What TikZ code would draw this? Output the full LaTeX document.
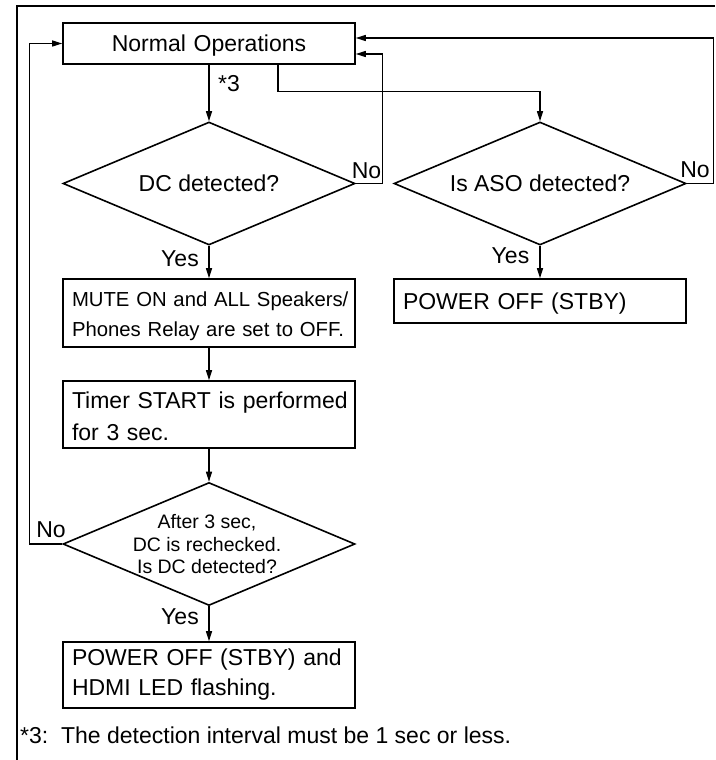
\documentclass[tikz,border=0pt]{standalone}
\usepackage{fontspec}
\setmainfont{Liberation Sans}
\usetikzlibrary{arrows.meta,shapes.geometric}
\newcommand\fsz[2]{\fontsize{#1}{#2}\selectfont}
\newcommand\htfix[1]{\rule{0pt}{#1}}
\begin{document}
\begin{tikzpicture}[x=1pt,y=-1pt,
  box/.style={draw, line width=1.6pt, minimum width=292pt, inner xsep=9pt, inner ysep=0pt,
    text width=274pt, align=left, font=\fsz{23}{32}},
  dia/.style={draw, diamond, line width=1.6pt, minimum width=292pt, minimum height=123pt,
    inner sep=0pt, aspect=2.37, font=\fsz{23}{27}, text height=16.5pt, text depth=0pt},
  arr/.style={line width=1.2pt, -{Triangle[length=10pt,width=6pt]}},
  lbl/.style={inner sep=0pt, anchor=base, font=\fsz{23}{27}},
  frame/.style={line width=1.4pt}]
\useasboundingbox (0,0) rectangle (715,760);
\draw[frame] (17,760) -- (17,6) -- (715,6);

% nodes
\node[box, align=center, minimum height=41pt, text height=16.5pt, text depth=0pt] (no) at (209,43.5) {Normal Operations};
\node[dia] (d1) at (209,183.5) {DC detected?};
\node[dia] (d2) at (540,183.5) {Is ASO detected?};
\node[box, minimum height=68pt, font=\fsz{20.3}{30}] (mute) at (209,313)
  {\htfix{20.5pt}\mbox{MUTE ON and ALL Speakers/}\\\mbox{Phones Relay are set to OFF.}};
\node[box, minimum height=67pt] (timer) at (209,414.5)
  {\htfix{19.6pt}\mbox{Timer START is performed}\\\mbox{for 3 sec.}};
\node[dia] (d3) at (209,544) {};
\node[font=\fsz{19.5}{22.5}, align=center, inner sep=0pt] (t3) at (207,544.5)
  {After 3 sec,\\DC is rechecked.\\Is DC detected?};
\node[box, minimum height=66pt, font=\fsz{23}{30}] (final) at (209,675)
  {\mbox{POWER OFF (STBY) and}\\\mbox{HDMI LED flashing.}};
\node[box, minimum height=44pt, text height=16.5pt, text depth=0pt] (stby) at (540,301) {POWER OFF (STBY)};

% labels
\node[lbl] (s3) at (229,91) {*3};
\node[lbl] (no1) at (366.5,178) {No};
\node[lbl] (no2) at (695,177) {No};
\node[lbl] (no3) at (51,537) {No};
\node[lbl] (y1) at (180,266) {Yes};
\node[lbl] (y2) at (510.5,263) {Yes};
\node[lbl] (y3) at (180,624) {Yes};
\node[lbl, anchor=base west] (fn) at (20,743) {*3:\ \ The detection interval must be 1 sec or less.};

% connectors
\draw[arr] (no.south) -- (d1.north);
\draw[arr] ([xshift=69pt]no.south) -- ++(0,27) -| (d2.north);
\draw[arr] (d1.east) -- ++(27,0) |- ([yshift=-10.5pt]no.east);
\draw[arr] (d2.east) -- ++(27,0) |- ([yshift=5.5pt]no.east);
\draw[arr] (d3.west) -- ++(-33,0) |- (no.west);
\draw[arr] (d1.south) -- (mute.north);
\draw[arr] (mute.south) -- (timer.north);
\draw[arr] (timer.south) -- (d3.north);
\draw[arr] (d3.south) -- (final.north);
\draw[arr] (d2.south) -- (stby.north);
\end{tikzpicture}
\end{document}
